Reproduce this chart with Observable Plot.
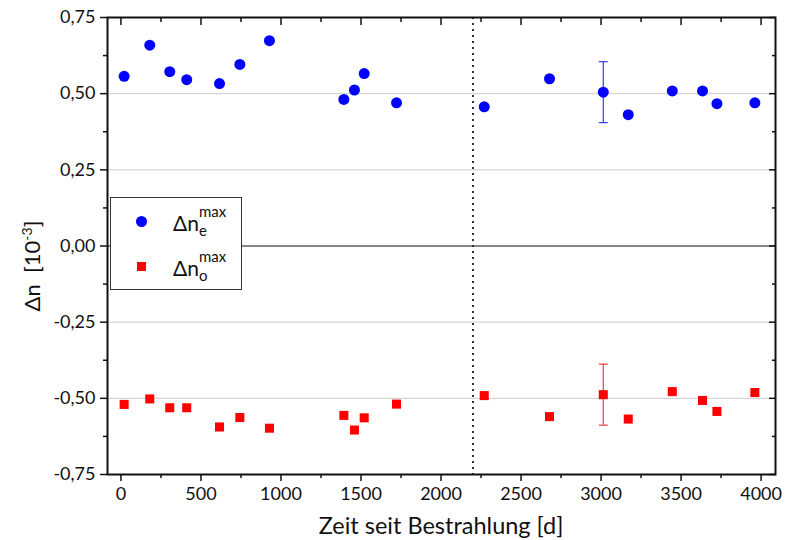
<!DOCTYPE html>
<html>
<head>
<meta charset="utf-8">
<script src="https://cdn.jsdelivr.net/npm/d3@7"></script>
<script src="https://cdn.jsdelivr.net/npm/@observablehq/plot@0.6"></script>
<style>
  body { margin: 0; background: white; }
  #wrap { position: relative; width: 792px; height: 540px; font-family: Lato, "DejaVu Sans", sans-serif; }
  #legend { position: absolute; left: 110px; top: 197px; width: 132px; height: 93px; border: 1px solid #333; background: white; box-sizing: border-box; }
  .row { position: absolute; left: 0; width: 130px; height: 40px; }
  .sym { position: absolute; }
  .lbl { position: absolute; left: 62px; font-size: 21px; color: #111; white-space: nowrap; }
  .ss { position: absolute; font-size: 15px; line-height: 15px; }
  #ylab { position: absolute; left: 31px; top: 266px; transform: translate(-50%, -50%) rotate(-90deg); font-size: 22px; white-space: nowrap; color: #111; }
  #ylab sup { font-size: 14px; vertical-align: 8px; }
  #xlab { position: absolute; left: 441px; top: 525px; transform: translate(-50%, -50%); font-size: 23.5px; white-space: nowrap; color: #111; }
</style>
</head>
<body>
<div id="wrap">
  <div id="chart"></div>
  <div id="ylab">Δn&nbsp; [10<sup>-3</sup>]</div>
  <div id="xlab">Zeit seit Bestrahlung [d]</div>
  <div id="legend">
    <div class="row" style="top:4px">
      <div class="sym" style="left:25px; top:14px; width:11px; height:11px; border-radius:50%; background:#0000ff"></div>
      <div class="lbl" style="top:8px">Δn<span class="ss" style="left:26px; top:-6px">max</span><span class="ss" style="left:26px; top:13px">e</span></div>
    </div>
    <div class="row" style="top:49px">
      <div class="sym" style="left:26px; top:15px; width:9px; height:9px; background:#ff0000"></div>
      <div class="lbl" style="top:8px">Δn<span class="ss" style="left:26px; top:-6px">max</span><span class="ss" style="left:26px; top:13px">o</span></div>
    </div>
  </div>
</div>
<script>
// Days since irradiation
const days = [20, 180, 305, 411, 616, 743, 928, 1393, 1459, 1520, 1722, 2270, 2678, 3014, 3170, 3445, 3634, 3724, 3961];
// Δn_e^max [10^-3]
const dnE = [0.557, 0.659, 0.572, 0.546, 0.533, 0.596, 0.674, 0.481, 0.512, 0.566, 0.470, 0.457, 0.549, 0.505, 0.431, 0.509, 0.509, 0.467, 0.470];
// Δn_o^max [10^-3]
const dnO = [-0.520, -0.502, -0.531, -0.531, -0.594, -0.563, -0.598, -0.556, -0.604, -0.564, -0.519, -0.491, -0.560, -0.488, -0.568, -0.478, -0.507, -0.543, -0.481];
// Representative error bar (one point per series)
const errDay = [3014];
const errE = [0.505];
const errO = [-0.488];
const errSize = 0.1;
const irradiationEnd = [2200];

const xTicks = [0, 500, 1000, 1500, 2000, 2500, 3000, 3500, 4000];
const xMinor = [250, 750, 1250, 1750, 2250, 2750, 3250, 3750];
const yTicks = [-0.75, -0.5, -0.25, 0, 0.25, 0.5, 0.75];
const yMinor = [-0.625, -0.375, -0.125, 0.125, 0.375, 0.625];
const yGrid = [-0.5, -0.25, 0.25, 0.5];

const eData = days.map((d, i) => ({x: d, y: dnE[i]}));
const oData = days.map((d, i) => ({x: d, y: dnO[i]}));
const errData = [
  ...errDay.map((d, i) => ({x: d, y: errE[i], c: "#3a3aff"})),
  ...errDay.map((d, i) => ({x: d, y: errO[i], c: "#ff3a3a"}))
];

const cap = { draw(ctx) { ctx.moveTo(-4.5, 0); ctx.lineTo(4.5, 0); } };
const fmt = d => d.toFixed(2).replace(".", ",");
const none = () => "";

const chart = Plot.plot({
  width: 792,
  height: 540,
  marginLeft: 107,
  marginRight: 17,
  marginTop: 17,
  marginBottom: 66,
  style: { fontFamily: "Lato, 'DejaVu Sans', sans-serif", fontSize: "16px", color: "#111" },
  x: { domain: [-84, 4090] },
  y: { domain: [-0.75, 0.75] },
  marks: [
    Plot.ruleY(yGrid, { stroke: "#cccccc", strokeWidth: 1 }),
    Plot.ruleY([0], { stroke: "#111", strokeWidth: 1.2 }),
    Plot.ruleX(irradiationEnd, { stroke: "#333", strokeWidth: 2, strokeDasharray: "2,4" }),
    // error bars
    Plot.ruleX(errData, { x: "x", y1: d => d.y - errSize, y2: d => d.y + errSize, stroke: "c", strokeWidth: 1.2 }),
    Plot.dot(errData, { x: "x", y: d => d.y - errSize, symbol: cap, stroke: "c", strokeWidth: 1.2, r: 3 }),
    Plot.dot(errData, { x: "x", y: d => d.y + errSize, symbol: cap, stroke: "c", strokeWidth: 1.2, r: 3 }),
    Plot.dot(eData, { x: "x", y: "y", r: 5.5, fill: "#0000ff", symbol: "circle" }),
    Plot.dot(oData, { x: "x", y: "y", r: 5.1, fill: "#ff0000", symbol: "square" }),
    // bottom axis (outward)
    Plot.axisX({ anchor: "bottom", ticks: xTicks, tickSize: 7, tickPadding: 6, tickFormat: d => String(d), fontSize: 18, label: null, strokeWidth: 1.5 }),
    Plot.axisX({ anchor: "bottom", ticks: xMinor, tickSize: 4, tickFormat: none, label: null, strokeWidth: 1.5 }),
    // top axis (inward)
    Plot.axisX({ anchor: "top", ticks: xTicks, tickSize: 7, dy: 7, tickFormat: none, label: null, strokeWidth: 1.5 }),
    Plot.axisX({ anchor: "top", ticks: xMinor, tickSize: 4, dy: 4, tickFormat: none, label: null, strokeWidth: 1.5 }),
    // left axis (outward)
    Plot.axisY({ anchor: "left", ticks: yTicks, tickSize: 7, tickPadding: 5, tickFormat: fmt, fontSize: 18, label: null, strokeWidth: 1.5 }),
    Plot.axisY({ anchor: "left", ticks: yMinor, tickSize: 4, tickFormat: none, label: null, strokeWidth: 1.5 }),
    // right axis (inward)
    Plot.axisY({ anchor: "right", ticks: yTicks, tickSize: 7, dx: -7, tickFormat: none, label: null, strokeWidth: 1.5 }),
    Plot.axisY({ anchor: "right", ticks: yMinor, tickSize: 4, dx: -4, tickFormat: none, label: null, strokeWidth: 1.5 }),
    Plot.frame({ stroke: "#111", strokeWidth: 2 })
  ]
});
document.getElementById("chart").appendChild(chart);
</script>
</body>
</html>
